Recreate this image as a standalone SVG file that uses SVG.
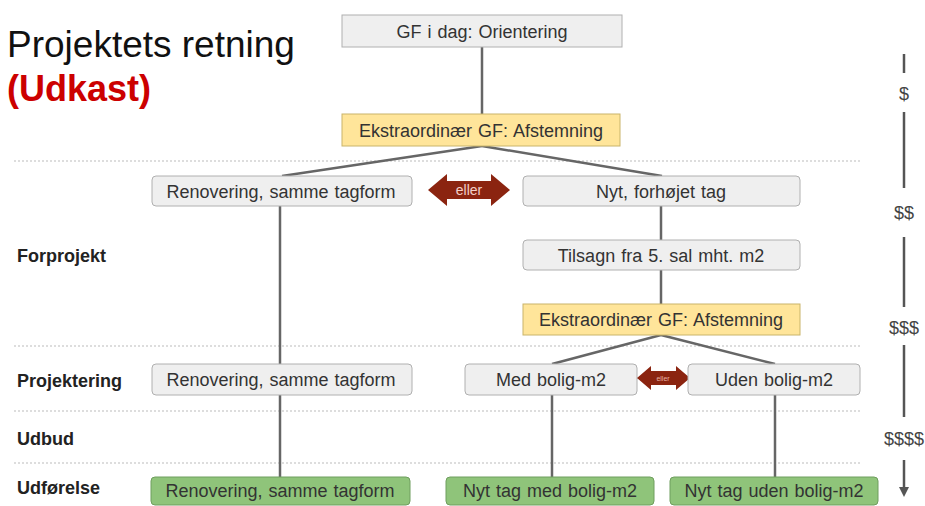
<svg xmlns="http://www.w3.org/2000/svg" width="925" height="506" viewBox="0 0 925 506">
<defs>
<style>
.t{font-family:"Liberation Sans",Arial,sans-serif;font-size:18px;fill:#333;text-anchor:middle;word-spacing:1px}
.g{fill:#efefef;stroke:#b0b0b0;stroke-width:1}
.y{fill:#ffe59a;stroke:#c9b46a;stroke-width:1}
.gr{fill:#8fc47a;stroke:#6f9e5e;stroke-width:1}
.c{stroke:#666;stroke-width:2.5;fill:none}
.d{stroke:#bbb;stroke-width:1;stroke-dasharray:2 2}
.lab{font-family:"Liberation Sans",Arial,sans-serif;font-size:18px;font-weight:bold;fill:#222}
.usd{font-family:"Liberation Sans",Arial,sans-serif;font-size:18px;fill:#444;text-anchor:middle}
</style>
<marker id="ah" viewBox="0 0 10 10" refX="5" refY="5" markerWidth="4" markerHeight="4" orient="auto"><path d="M0,0 L10,5 L0,10 Z" fill="#555"/></marker>
</defs>
<rect width="925" height="506" fill="#fff"/>
<g id="title">
<text x="7" y="57" font-family="Liberation Sans,Arial,sans-serif" font-size="37" fill="#111">Projektets retning</text>
<text x="7" y="101" font-family="Liberation Sans,Arial,sans-serif" font-size="36" font-weight="bold" fill="#c00">(Udkast)</text>
</g>
<g id="dividers">
<line class="d" x1="14" y1="161" x2="862" y2="161"/>
<line class="d" x1="14" y1="346" x2="862" y2="346"/>
<line class="d" x1="14" y1="411" x2="862" y2="411"/>
<line class="d" x1="14" y1="463" x2="862" y2="463"/>
</g>
<g id="phases">
<text class="lab" x="17" y="262">Forprojekt</text>
<text class="lab" x="17" y="387">Projektering</text>
<text class="lab" x="17" y="445">Udbud</text>
<text class="lab" x="17" y="494">Udførelse</text>
</g>
<g id="connectors">
<line class="c" x1="482" y1="47" x2="482" y2="114"/>
<line class="c" x1="482" y1="146" x2="282" y2="176"/>
<line class="c" x1="482" y1="146" x2="662" y2="176"/>
<line class="c" x1="280" y1="206" x2="280" y2="364"/>
<line class="c" x1="280" y1="395" x2="280" y2="477"/>
<line class="c" x1="661" y1="206" x2="661" y2="240"/>
<line class="c" x1="661" y1="270" x2="661" y2="304"/>
<line class="c" x1="661" y1="335" x2="552" y2="364"/>
<line class="c" x1="661" y1="335" x2="775" y2="364"/>
<line class="c" x1="552" y1="395" x2="552" y2="477"/>
<line class="c" x1="775" y1="395" x2="775" y2="477"/>
</g>
<g id="n1"><rect class="g" x="342" y="15" width="280" height="32"/><text class="t" x="482" y="38">GF i dag: Orientering</text></g>
<g id="n2"><rect class="y" x="342" y="114" width="278" height="32"/><text class="t" x="481" y="137">Ekstraordinær GF: Afstemning</text></g>
<g id="n3"><rect class="g" x="152" y="176" width="260" height="30" rx="4"/><text class="t" x="281" y="198">Renovering, samme tagform</text></g>
<g id="n4"><rect class="g" x="523" y="176" width="277" height="30" rx="4"/><text class="t" x="661" y="198">Nyt, forhøjet tag</text></g>
<g id="or1"><path d="M428,190 L447,174 L447,181 L491,181 L491,174 L510,190 L491,206 L491,199 L447,199 L447,206 Z" fill="#8b2410"/><text x="469" y="195" font-family="Liberation Sans,Arial,sans-serif" font-size="14" fill="#f3d0c8" text-anchor="middle">eller</text></g>
<g id="n5"><rect class="g" x="523" y="240" width="277" height="30" rx="4"/><text class="t" x="661" y="262">Tilsagn fra 5. sal mht. m2</text></g>
<g id="n6"><rect class="y" x="523" y="304" width="277" height="31"/><text class="t" x="661" y="326">Ekstraordinær GF: Afstemning</text></g>
<g id="n7"><rect class="g" x="152" y="364" width="260" height="31" rx="4"/><text class="t" x="281" y="386">Renovering, samme tagform</text></g>
<g id="n8"><rect class="g" x="465" y="364" width="172" height="31" rx="4"/><text class="t" x="551" y="386">Med bolig-m2</text></g>
<g id="or2"><path d="M637,378 L651,366 L651,371 L676,371 L676,366 L690,378 L676,390 L676,385 L651,385 L651,390 Z" fill="#8b2410"/><text x="663" y="381" font-family="Liberation Sans,Arial,sans-serif" font-size="7" fill="#e8b0a4" text-anchor="middle">eller</text></g>
<g id="n9"><rect class="g" x="688" y="364" width="172" height="31" rx="4"/><text class="t" x="774" y="386">Uden bolig-m2</text></g>
<g id="n10"><rect class="gr" x="151" y="477" width="259" height="28" rx="4"/><text class="t" x="280" y="497" fill="#222">Renovering, samme tagform</text></g>
<g id="n11"><rect class="gr" x="446" y="477" width="208" height="28" rx="4"/><text class="t" x="550" y="497">Nyt tag med bolig-m2</text></g>
<g id="n12"><rect class="gr" x="670" y="477" width="208" height="28" rx="4"/><text class="t" x="774" y="497">Nyt tag uden bolig-m2</text></g>
<g id="cost">
<line x1="904" y1="54" x2="904" y2="73" stroke="#555" stroke-width="2.5"/>
<text class="usd" x="904" y="100">$</text>
<line x1="904" y1="112" x2="904" y2="188" stroke="#555" stroke-width="2.5"/>
<text class="usd" x="904" y="219">$$</text>
<line x1="904" y1="237" x2="904" y2="307" stroke="#555" stroke-width="2.5"/>
<text class="usd" x="904" y="334">$$$</text>
<line x1="904" y1="345" x2="904" y2="417" stroke="#555" stroke-width="2.5"/>
<text class="usd" x="904" y="445">$$$$</text>
<line x1="904" y1="460" x2="904" y2="492" stroke="#555" stroke-width="2.5" marker-end="url(#ah)"/>
</g>
</svg>
